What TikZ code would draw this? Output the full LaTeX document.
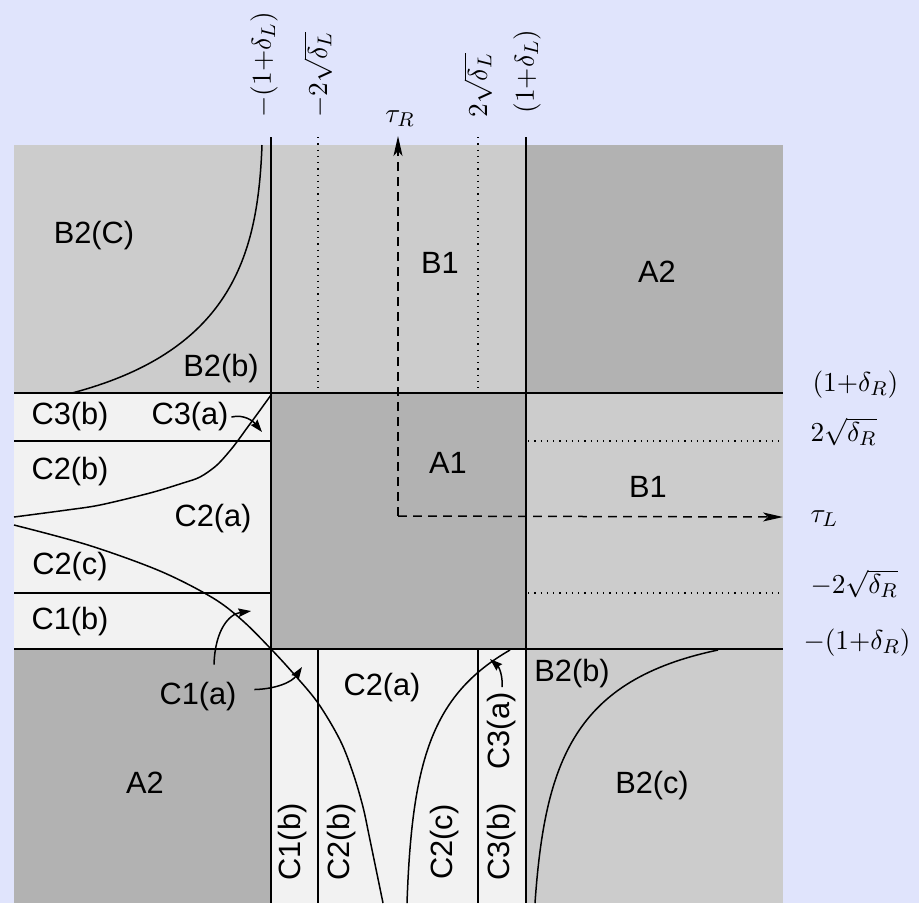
\documentclass[tikz,border=0pt]{standalone}
\usepackage{fontspec}
\newfontfamily\lblfont{Liberation Sans}
\usepackage{amsmath}
\usetikzlibrary{arrows.meta, positioning}
\definecolor{slidebg}{RGB}{224,228,252}
\definecolor{regA}{gray}{0.70}
\definecolor{regB}{gray}{0.80}
\definecolor{regC}{gray}{0.95}
\tikzstyle{bound} = [
  line width=0.6pt, color=black
]
\tikzstyle{guide} = [
  dotted, line width=0.5pt, color=black
]
\tikzstyle{axisarrow} = [
  dash pattern=on 3.5pt off 2.5pt, line width=0.6pt,
  -{Stealth[length=8pt, width=3.6pt, inset=2pt]}
]
\tikzstyle{branch} = [
  line width=0.6pt, color=black
]
\tikzstyle{pointer} = [
  line width=0.6pt, -{Stealth[length=5pt, width=3.4pt, inset=0.6pt]}
]
\tikzstyle{zonelabel} = [
  font=\lblfont\fontsize{12.3}{14}\selectfont, inner sep=0pt
]
\tikzstyle{mathlabel} = [
  font=\fontsize{11}{13}\selectfont, inner sep=0pt
]

\begin{document}
\begin{tikzpicture}[x=0.4pt, y=-0.4pt]

  % ── Background ────────────────────────────────────────
  \fill[slidebg] (0,0) rectangle (919,903);
  \useasboundingbox (0,0) rectangle (919,903);

  % ── Regions ───────────────────────────────────────────
  \fill[regB] (14,145)  rectangle (271,393);
  \fill[regB] (271,145) rectangle (526,393);
  \fill[regA] (526,145) rectangle (783,393);
  \fill[regC] (14,393)  rectangle (271,649);
  \fill[regA] (271,393) rectangle (526,649);
  \fill[regB] (526,393) rectangle (783,649);
  \fill[regA] (14,649)  rectangle (271,903);
  \fill[regC] (271,649) rectangle (526,903);
  \fill[regB] (526,649) rectangle (783,903);

  % ── Boundaries ────────────────────────────────────────
  \draw[bound] (271,137) -- (271,903);
  \draw[bound] (526,137) -- (526,903);
  \draw[bound] (14,393) -- (783,393);
  \draw[bound] (14,649) -- (783,649);
  \draw[bound] (14,441) -- (271,441);
  \draw[bound] (14,593) -- (271,593);
  \draw[bound] (318,649) -- (318,903);
  \draw[bound] (478,649) -- (478,903);

  \draw[guide] (318,137) -- (318,390);
  \draw[guide] (478,137) -- (478,390);
  \draw[guide] (528,441) -- (782,441);
  \draw[guide] (528,593) -- (782,593);

  % ── Axes ──────────────────────────────────────────────
  \coordinate (origin)  at (398,516);
  \coordinate (tauRtip) at (398,136);
  \coordinate (tauLtip) at (783,517);
  \draw[axisarrow] (origin) -- (tauRtip);
  \draw[axisarrow] (origin) -- (tauLtip);

  % ── Branches ──────────────────────────────────────────
  \draw[branch] (72,393) .. controls (235,350) and (258,250) .. (262,145);
  \draw[branch] plot[smooth, tension=0.5] coordinates
    {(14,517) (67,510) (100,505) (150,493) (183,483) (200,477)
     (217,465) (233,447) (247,428) (258,413) (271,395)};
  \draw[branch] plot[smooth, tension=0.55] coordinates
    {(14,525) (88,545) (160,571) (213,598) (243,621) (271,649)
     (293,673) (318,703) (340,740) (353,773) (363,807) (370,840)
     (383,903)};
  \draw[branch] (407,903) .. controls (412,760) and (432,695) .. (510,650);
  \draw[branch] (535,903) .. controls (545,760) and (575,680) .. (718,650);

  % ── Axis labels ───────────────────────────────────────
  \node[mathlabel, rotate=90, anchor=west] (negoneL) at (264,118) {$-(1{+}\delta_L)$};
  \node[mathlabel, rotate=90, anchor=west] (negsqrtL) at (318,118) {$-2\sqrt{\delta_L}$};
  \node[mathlabel, rotate=90, anchor=west] (possqrtL) at (478,118) {$2\sqrt{\delta_L}$};
  \node[mathlabel, rotate=90, anchor=west] (posoneL) at (527,114) {$(1{+}\delta_L)$};
  \node[mathlabel, anchor=base] (tauR) at (400,122) {$\tau_R$};

  \node[mathlabel, anchor=base west] (posoneR)  at (812,391) {$(1{+}\delta_R)$};
  \node[mathlabel, anchor=base west] (possqrtR) at (810,441) {$2\sqrt{\delta_R}$};
  \node[mathlabel, anchor=base west] (tauL)     at (810,522) {$\tau_L$};
  \node[mathlabel, anchor=base west] (negsqrtR) at (810,593) {$-2\sqrt{\delta_R}$};
  \node[mathlabel, anchor=base west] (negoneR)  at (803,649) {$-(1{+}\delta_R)$};

  % ── Region labels ─────────────────────────────────────
  \node[zonelabel] (b2cTL) at (94,236)  {B2(C)};
  \node[zonelabel] (b2bTL) at (221,369) {B2(b)};
  \node[zonelabel] (b1T)   at (440,263) {B1};
  \node[zonelabel] (a2TR)  at (657,272) {A2};
  \node[zonelabel] (c3bL)  at (70,417)  {C3(b)};
  \node[zonelabel] (c3aL)  at (190,417) {C3(a)};
  \node[zonelabel] (a1)    at (448,463) {A1};
  \node[zonelabel] (c2bL)  at (70,472)  {C2(b)};
  \node[zonelabel] (b1R)   at (648,487) {B1};
  \node[zonelabel] (c2aL)  at (213,519) {C2(a)};
  \node[zonelabel] (c2cL)  at (70,567)  {C2(c)};
  \node[zonelabel] (c1bL)  at (70,622)  {C1(b)};
  \node[zonelabel] (c1a)   at (198,697) {C1(a)};
  \node[zonelabel] (b2bBR) at (572,674) {B2(b)};
  \node[zonelabel] (c2aB)  at (382,688) {C2(a)};
  \node[zonelabel] (a2BL)  at (145,783) {A2};
  \node[zonelabel] (b2cBR) at (652,786) {B2(c)};

  \node[zonelabel, rotate=90] (c1bB) at (293,842) {C1(b)};
  \node[zonelabel, rotate=90] (c2bB) at (342,842) {C2(b)};
  \node[zonelabel, rotate=90] (c2cB) at (445,842) {C2(c)};
  \node[zonelabel, rotate=90] (c3bB) at (502,842) {C3(b)};
  \node[zonelabel, rotate=90] (c3aB) at (502,731) {C3(a)};

  % ── Pointers ──────────────────────────────────────────
  \coordinate (c3aLtip) at (262,432);
  \coordinate (c1aUtip) at (251,611);
  \coordinate (c1aRtip) at (302,667);
  \coordinate (c3aBtip) at (490,659);

  \draw[pointer] ([xshift=1pt]c3aL.east) .. controls (244,414) and (253,421) .. (c3aLtip);
  \draw[pointer] ([xshift=6.4pt, yshift=7pt]c1a.north) .. controls (215,630) and (229,614) .. (c1aUtip);
  \draw[pointer] ([xshift=7pt, yshift=3pt]c1a.east) .. controls (276,689) and (292,682) .. (c1aRtip);
  \draw[pointer] ([yshift=2pt]c3aB.east) .. controls (503,676) and (499,667) .. (c3aBtip);

\end{tikzpicture}
\end{document}
